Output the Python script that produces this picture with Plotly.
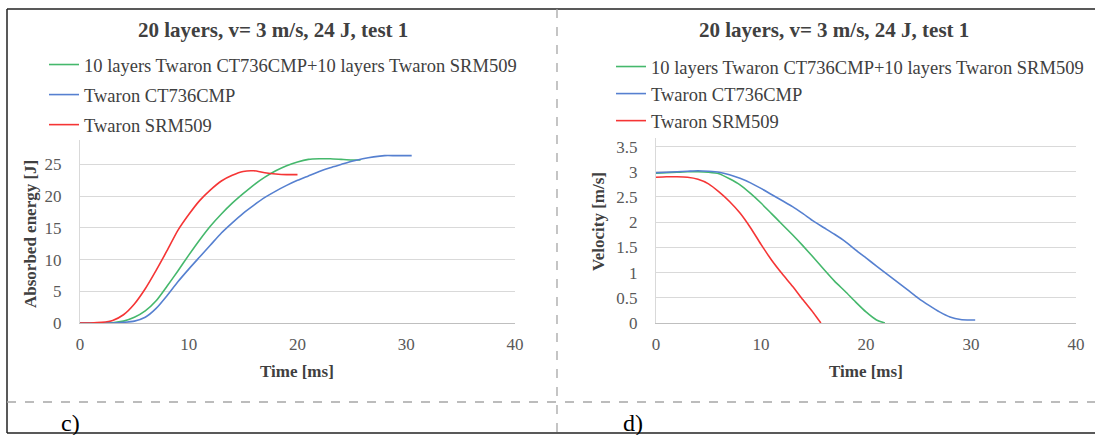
import plotly.graph_objects as go

W, H = 1095, 435

# ---------------- data ----------------
series_names = ["10 layers Twaron CT736CMP+10 layers Twaron SRM509",
                "Twaron CT736CMP",
                "Twaron SRM509"]
series_colors = ["#45b86c", "#5680d0", "#f53535"]

# panel c) absorbed energy [J] vs time [ms]
t_green_e = [0, 1, 2, 3, 4, 5, 6, 7, 8, 9, 10, 11, 12, 13, 14, 15, 16, 17, 18, 19, 20, 21, 22, 23, 24, 25, 25.8]
e_green = [0, 0, 0, 0.05, 0.3, 0.9, 1.9, 3.5, 5.8, 8.2, 10.7, 13.1, 15.3, 17.2, 18.9, 20.4, 21.8, 23.0, 24.0, 24.8, 25.4, 25.8, 25.9, 25.9, 25.8, 25.7, 25.7]

t_blue_e = [0, 1, 2, 3, 4, 5, 6, 7, 8, 9, 10, 11, 12, 13, 14, 15, 16, 17, 18, 19, 20, 21, 22, 23, 24, 25, 26, 27, 28, 29, 30, 30.5]
e_blue = [0, 0, 0, 0, 0.1, 0.3, 0.9, 2.3, 4.3, 6.5, 8.5, 10.4, 12.3, 14.2, 15.8, 17.3, 18.6, 19.8, 20.8, 21.7, 22.5, 23.2, 23.9, 24.5, 25.0, 25.5, 25.9, 26.2, 26.4, 26.4, 26.4, 26.4]

t_red_e = [0, 1, 2, 3, 4, 5, 6, 7, 8, 9, 10, 11, 12, 13, 14, 15, 16, 17, 18, 19, 20]
e_red = [0, 0, 0.1, 0.4, 1.3, 3.0, 5.4, 8.3, 11.4, 14.6, 17.1, 19.3, 21.0, 22.4, 23.3, 23.9, 24.0, 23.7, 23.5, 23.4, 23.4]

# panel d) velocity [m/s] vs time [ms]
t_green_v = [0, 1, 2, 3, 4, 5, 6, 7, 8, 9, 10, 11, 12, 13, 14, 15, 16, 17, 18, 19, 20, 21, 21.8]
v_green = [2.97, 2.98, 2.99, 3.0, 3.0, 2.99, 2.96, 2.86, 2.74, 2.57, 2.38, 2.17, 1.96, 1.75, 1.53, 1.30, 1.06, 0.83, 0.63, 0.42, 0.22, 0.06, 0]

t_blue_v = [0, 1, 2, 3, 4, 5, 6, 7, 8, 9, 10, 11, 12, 13, 14, 15, 16, 17, 18, 19, 20, 21, 22, 23, 24, 25, 26, 27, 28, 29, 30, 30.4]
v_blue = [2.98, 2.99, 3.0, 3.01, 3.02, 3.01, 2.99, 2.94, 2.87, 2.78, 2.67, 2.55, 2.43, 2.31, 2.17, 2.02, 1.89, 1.76, 1.62, 1.45, 1.29, 1.13, 0.97, 0.81, 0.65, 0.49, 0.35, 0.22, 0.12, 0.07, 0.06, 0.06]

t_red_v = [0, 1, 2, 3, 4, 5, 6, 7, 8, 9, 10, 11, 12, 13, 14, 15, 15.7]
v_red = [2.89, 2.90, 2.90, 2.89, 2.85, 2.76, 2.60, 2.41, 2.18, 1.89, 1.56, 1.25, 0.98, 0.73, 0.46, 0.20, 0]

x_ticks = [0, 10, 20, 30, 40]
e_ticks = [0, 5, 10, 15, 20, 25]
v_ticks = [0, 0.5, 1, 1.5, 2, 2.5, 3, 3.5]
v_tick_text = ["0", "0.5", "1", "1.5", "2", "2.5", "3", "3.5"]

chart_title = "20 layers, v= 3 m/s, 24 J, test 1"
x_title = "Time [ms]"
e_title = "Absorbed energy [J]"
v_title = "Velocity [m/s]"
panel_labels = ["c)", "d)"]

# ---------------- figure ----------------
SERIF = "Liberation Serif, Times New Roman, serif"
fig = go.Figure()

energy = [(t_green_e, e_green), (t_blue_e, e_blue), (t_red_e, e_red)]
velocity = [(t_green_v, v_green), (t_blue_v, v_blue), (t_red_v, v_red)]

for i, (tx, ty) in enumerate(energy):
    fig.add_trace(go.Scatter(x=tx, y=ty, mode="lines", name=series_names[i],
                             line=dict(color=series_colors[i], width=1.6, shape="spline", smoothing=0.6),
                             xaxis="x", yaxis="y", legend="legend", legendgroup="a%d" % i))
for i, (tx, ty) in enumerate(velocity):
    fig.add_trace(go.Scatter(x=tx, y=ty, mode="lines", name=series_names[i],
                             line=dict(color=series_colors[i], width=1.6, shape="spline", smoothing=0.6),
                             xaxis="x2", yaxis="y2", legend="legend2", legendgroup="b%d" % i))

def px_x(p):
    return p / W

def px_y(p):
    return 1 - p / H

tickfont = dict(family=SERIF, size=17, color="#595959")
common_x = dict(range=[0, 40], tickvals=x_ticks, showgrid=False, zeroline=False,
                showline=True, linecolor="#bfbfbf", linewidth=1, ticks="", automargin=False,
                tickfont=tickfont, ticklabelstandoff=6)
common_y = dict(showgrid=True, gridcolor="#d9d9d9", gridwidth=1, zeroline=False,
                showline=True, linecolor="#d9d9d9", linewidth=1, ticks="", automargin=False,
                tickfont=tickfont, ticklabelstandoff=14)

fig.update_layout(
    width=W, height=H, autosize=False,
    margin=dict(l=0, r=0, t=0, b=0, pad=0, autoexpand=False),
    paper_bgcolor="white", plot_bgcolor="white",
    xaxis=dict(domain=[px_x(80), px_x(515)], anchor="y", **common_x),
    yaxis=dict(domain=[px_y(323), px_y(140)], anchor="x", range=[0, 28.86], tickvals=e_ticks, **common_y),
    xaxis2=dict(domain=[px_x(656), px_x(1076)], anchor="y2", **common_x),
    yaxis2=dict(domain=[px_y(323), px_y(138)], anchor="x2", range=[0, 3.67], tickvals=v_ticks,
                ticktext=v_tick_text, **common_y),
    legend=dict(x=px_x(44), y=px_y(46), xanchor="left", yanchor="top",
                font=dict(family=SERIF, size=18.5, color="#404040"),
                bgcolor="rgba(0,0,0,0)", tracegroupgap=3, itemwidth=30),
    legend2=dict(x=px_x(611), y=px_y(48), xanchor="left", yanchor="top",
                 font=dict(family=SERIF, size=18.5, color="#404040"),
                 bgcolor="rgba(0,0,0,0)", tracegroupgap=0, itemwidth=30),
    showlegend=True,
)

ann = []
title_font = dict(family=SERIF, size=21, color="#404040")
ann.append(dict(text="<b>%s</b>" % chart_title, x=px_x(273), y=px_y(30), xref="paper", yref="paper",
                showarrow=False, xanchor="center", yanchor="middle", font=title_font))
ann.append(dict(text="<b>%s</b>" % chart_title, x=px_x(834), y=px_y(30), xref="paper", yref="paper",
                showarrow=False, xanchor="center", yanchor="middle", font=title_font))
axis_font = dict(family=SERIF, size=17, color="#404040")
ann.append(dict(text="<b>%s</b>" % x_title, x=px_x(297), y=px_y(371), xref="paper", yref="paper",
                showarrow=False, xanchor="center", yanchor="middle", font=axis_font))
ann.append(dict(text="<b>%s</b>" % x_title, x=px_x(866), y=px_y(371), xref="paper", yref="paper",
                showarrow=False, xanchor="center", yanchor="middle", font=axis_font))
ann.append(dict(text="<b>%s</b>" % e_title, x=px_x(31), y=px_y(234), xref="paper", yref="paper",
                showarrow=False, xanchor="center", yanchor="middle", textangle=-90, font=axis_font))
ann.append(dict(text="<b>%s</b>" % v_title, x=px_x(598), y=px_y(222), xref="paper", yref="paper",
                showarrow=False, xanchor="center", yanchor="middle", textangle=-90, font=axis_font))
label_font = dict(family=SERIF, size=24, color="#000000")
ann.append(dict(text=panel_labels[0], x=px_x(59), y=px_y(423), xref="paper", yref="paper",
                showarrow=False, xanchor="left", yanchor="middle", font=label_font))
ann.append(dict(text=panel_labels[1], x=px_x(621), y=px_y(423), xref="paper", yref="paper",
                showarrow=False, xanchor="left", yanchor="middle", font=label_font))
fig.update_layout(annotations=ann)

shapes = []
# page frame (solid black) and dashed table grid
shapes.append(dict(type="line", xref="paper", yref="paper", x0=px_x(7), x1=1, y0=px_y(9), y1=px_y(9),
                   line=dict(color="#222222", width=1.5)))
shapes.append(dict(type="line", xref="paper", yref="paper", x0=px_x(7), x1=px_x(7), y0=px_y(9), y1=px_y(433),
                   line=dict(color="#222222", width=1.5)))
shapes.append(dict(type="line", xref="paper", yref="paper", x0=px_x(7), x1=1, y0=px_y(433), y1=px_y(433),
                   line=dict(color="#222222", width=1.5)))
shapes.append(dict(type="line", xref="paper", yref="paper", x0=px_x(557), x1=px_x(557), y0=px_y(9), y1=0,
                   line=dict(color="#a6a6a6", width=1.3, dash="dash")))
shapes.append(dict(type="line", xref="paper", yref="paper", x0=px_x(7), x1=1, y0=px_y(402), y1=px_y(402),
                   line=dict(color="#a6a6a6", width=1.3, dash="dash")))
fig.update_layout(shapes=shapes)

fig.write_html("out.html", config={"displayModeBar": False})

# remove the default page margin so the figure sits at the window's top-left corner
with open("out.html", "r", encoding="utf-8") as f:
    html = f.read()
html = html.replace("<head>", "<head><style>html,body{margin:0;padding:0;overflow:hidden;}</style>", 1)
with open("out.html", "w", encoding="utf-8") as f:
    f.write(html)
